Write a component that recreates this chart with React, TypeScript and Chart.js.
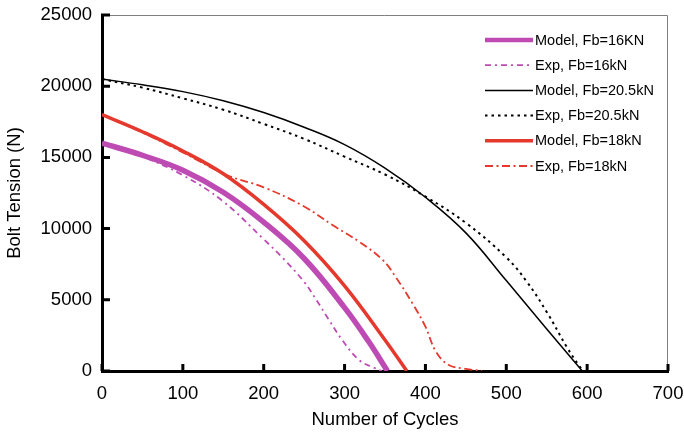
import React, { useEffect, useRef } from 'react';
import { Chart, registerables } from 'chart.js';

Chart.register(...registerables);

const FONT = '"Liberation Sans", Arial, Helvetica, sans-serif';

// Series data (cycles vs bolt tension in N)
const model16Cycles = [0, 50, 100, 150, 200, 250, 300, 330, 353];
const model16Tension = [16000, 15150, 14100, 12550, 10450, 7900, 4450, 2050, 0];

const exp16Cycles = [0, 50, 100, 150, 200, 225, 250, 265, 280, 297, 318, 338, 346];
const exp16Tension = [16000, 15050, 13750, 11900, 9250, 7850, 6250, 5000, 3650, 2180, 770, 190, 0];

const model20Cycles = [0, 50, 100, 150, 200, 250, 300, 350, 400, 450, 500, 550, 594];
const model20Tension = [20500, 20100, 19620, 18980, 18150, 17120, 15900, 14250, 12200, 9700, 6350, 2950, 0];

const exp20Cycles = [0, 50, 100, 150, 200, 250, 300, 350, 400, 450, 500, 525, 550, 575, 590, 596];
const exp20Tension = [20500, 19900, 19150, 18350, 17350, 16300, 15050, 13800, 12250, 10400, 7980, 6300, 4150, 1670, 380, 0];

const model18Cycles = [0, 50, 100, 150, 200, 250, 300, 350, 377];
const model18Tension = [18000, 16800, 15450, 13850, 11700, 9150, 5980, 2180, 0];

const exp18Cycles = [0, 50, 100, 155, 200, 250, 285, 318, 347, 363, 384, 400, 413, 429, 450, 470];
const exp18Tension = [18000, 16750, 15350, 13750, 12900, 11550, 10250, 9080, 7800, 6620, 4750, 3110, 1360, 420, 150, 0];

const seriesLabels = [
  'Model, Fb=16KN',
  'Exp, Fb=16kN',
  'Model, Fb=20.5kN',
  'Exp, Fb=20.5kN',
  'Model, Fb=18kN',
  'Exp, Fb=18kN',
];

const xAxisTitle = 'Number of Cycles';
const yAxisTitle = 'Bolt Tension (N)';

const MAGENTA = '#BE4BB4';
const RED = '#E5392D';
const BLACK = '#000000';

const toPoints = (xs: number[], ys: number[]) => xs.map((x, i) => ({ x, y: ys[i] }));

const framePlugin = {
  id: 'frameTicks',
  afterDraw(chart: any) {
    const { ctx, chartArea, scales } = chart;
    const { left, right, top, bottom } = chartArea;
    ctx.save();
    ctx.strokeStyle = '#7f7f7f';
    ctx.lineWidth = 1;
    ctx.beginPath();
    ctx.moveTo(left, top + 0.5);
    ctx.lineTo(right - 0.5, top + 0.5);
    ctx.lineTo(right - 0.5, bottom);
    ctx.stroke();

    ctx.strokeStyle = '#000';
    ctx.lineWidth = 3;
    ctx.beginPath();
    scales.x.ticks.forEach((t: any) => {
      const px = scales.x.getPixelForValue(t.value);
      ctx.moveTo(px, bottom);
      ctx.lineTo(px, bottom - 7);
    });
    scales.y.ticks.forEach((t: any) => {
      const py = scales.y.getPixelForValue(t.value);
      ctx.moveTo(left - 1, py);
      ctx.lineTo(left + 8, py);
    });
    ctx.stroke();
    ctx.restore();
  },
};

const legendPlugin = {
  id: 'insideLegend',
  afterDraw(chart: any) {
    const { ctx } = chart;
    const x0 = 485;
    const x1 = 533;
    const y0 = 40;
    const step = 25.2;
    ctx.save();
    chart.data.datasets.forEach((ds: any, i: number) => {
      const y = y0 + i * step;
      ctx.beginPath();
      ctx.strokeStyle = ds.borderColor;
      ctx.lineWidth = Math.min(ds.borderWidth, 4.5);
      ctx.setLineDash(ds.borderDash || []);
      ctx.moveTo(x0, y);
      ctx.lineTo(x1, y);
      ctx.stroke();
      ctx.setLineDash([]);
      ctx.fillStyle = '#000';
      ctx.font = `14.5px ${FONT}`;
      ctx.textAlign = 'left';
      ctx.textBaseline = 'middle';
      ctx.fillText(ds.label, x1 + 2, y + 0.5);
    });
    ctx.restore();
  },
};

export default function App() {
  const canvasRef = useRef<HTMLCanvasElement>(null);

  useEffect(() => {
    document.body.style.margin = '0';
    const canvas = canvasRef.current;
    if (!canvas) return;

    const tickFont = { family: FONT, size: 18.5 };
    const common = { tension: 0.4, pointRadius: 0, fill: false };

    const chart = new Chart(canvas, {
      type: 'line',
      data: {
        datasets: [
          {
            ...common,
            label: seriesLabels[0],
            data: toPoints(model16Cycles, model16Tension),
            borderColor: MAGENTA,
            borderWidth: 5.5,
          },
          {
            ...common,
            label: seriesLabels[1],
            data: toPoints(exp16Cycles, exp16Tension),
            borderColor: MAGENTA,
            borderWidth: 1.8,
            borderDash: [6, 4, 2, 4],
          },
          {
            ...common,
            label: seriesLabels[2],
            data: toPoints(model20Cycles, model20Tension),
            borderColor: BLACK,
            borderWidth: 1.5,
          },
          {
            ...common,
            label: seriesLabels[3],
            data: toPoints(exp20Cycles, exp20Tension),
            borderColor: BLACK,
            borderWidth: 2,
            borderDash: [2.5, 4],
          },
          {
            ...common,
            label: seriesLabels[4],
            data: toPoints(model18Cycles, model18Tension),
            borderColor: RED,
            borderWidth: 3.5,
          },
          {
            ...common,
            label: seriesLabels[5],
            data: toPoints(exp18Cycles, exp18Tension),
            borderColor: RED,
            borderWidth: 1.8,
            borderDash: [8, 3.5, 2, 3.5],
          },
        ] as any,
      },
      options: {
        responsive: false,
        animation: false,
        layout: { padding: { left: 0, right: 16, top: 15, bottom: 0 } },
        plugins: {
          legend: { display: false },
          tooltip: { enabled: false },
        },
        scales: {
          x: {
            type: 'linear',
            min: 0,
            max: 700,
            ticks: { stepSize: 100, color: '#000', font: tickFont, padding: 12, maxRotation: 0 },
            grid: { display: false, drawTicks: false },
            border: { display: true, color: '#000', width: 3 },
            title: {
              display: true,
              text: xAxisTitle,
              color: '#000',
              font: tickFont,
              padding: { top: 0, bottom: 3 },
            },
            afterFit: (s: any) => {
              s.height = 63;
              s.paddingLeft = 0;
              s.paddingRight = 0;
            },
          },
          y: {
            type: 'linear',
            min: 0,
            max: 25000,
            ticks: {
              stepSize: 5000,
              color: '#000',
              font: tickFont,
              padding: 10,
              callback: (v: any) => String(v),
            },
            grid: { display: false, drawTicks: false },
            border: { display: true, color: '#000', width: 3 },
            title: {
              display: true,
              text: yAxisTitle,
              color: '#000',
              font: tickFont,
              padding: { top: 4, bottom: 4 },
            },
            afterFit: (s: any) => {
              s.width = 102;
              s.paddingTop = 0;
              s.paddingBottom = 0;
            },
          },
        },
      } as any,
      plugins: [framePlugin, legendPlugin],
    });

    return () => chart.destroy();
  }, []);

  return (
    <div style={{ width: 684, height: 434 }}>
      <canvas ref={canvasRef} width={684} height={434} style={{ display: 'block' }} />
    </div>
  );
}
